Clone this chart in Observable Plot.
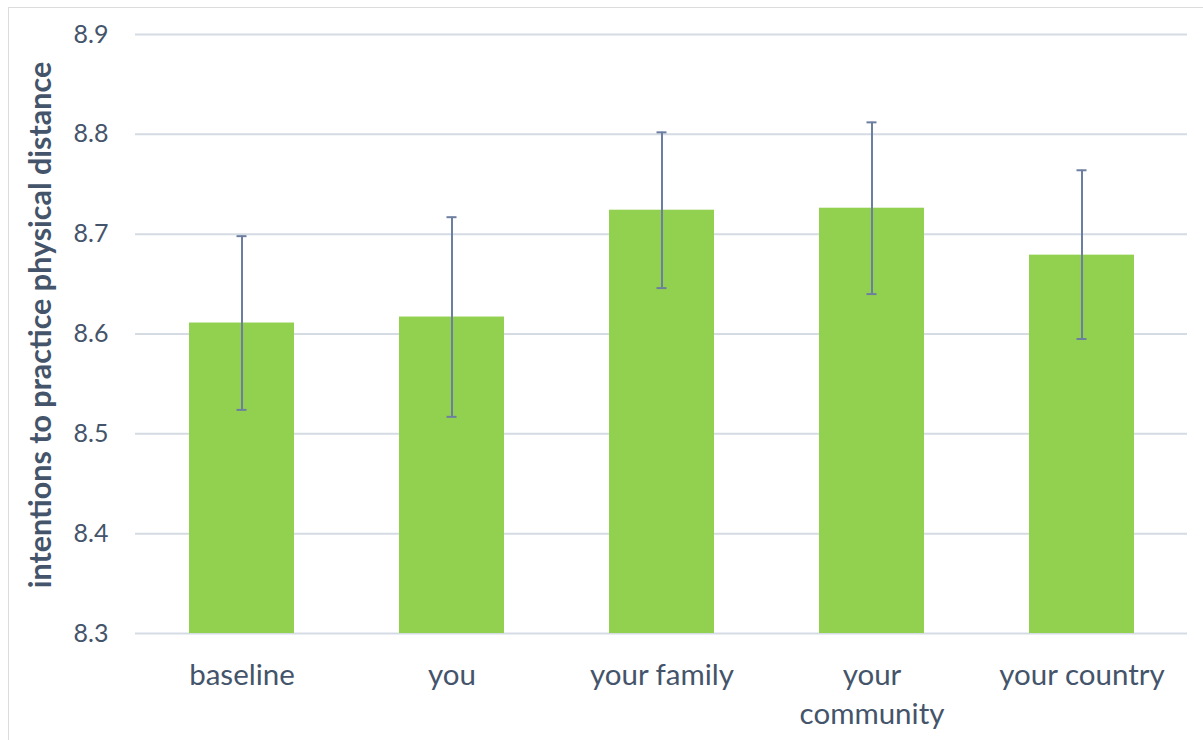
<!DOCTYPE html>
<html>
<head>
<meta charset="utf-8">
<script src="https://cdn.jsdelivr.net/npm/d3@7"></script>
<script src="https://cdn.jsdelivr.net/npm/@observablehq/plot@0.6"></script>
<style>
  html, body { margin: 0; padding: 0; background: #fff; }
  #wrap { position: relative; width: 1203px; height: 740px; overflow: hidden; }
  #border { position: absolute; left: 8px; top: 7px; width: 1400px; height: 900px; border: 1.5px solid #dcdcdc; box-sizing: border-box; }
  #chart { position: absolute; left: 0; top: 0; }
</style>
</head>
<body>
<div id="wrap"><div id="border"></div><div id="chart"></div></div>
<script>
const categories = ["baseline", "you", "your family", "your community", "your country"];
const tickLabels = ["baseline", "you", "your family", "your\ncommunity", "your country"];
const means = [8.611, 8.617, 8.724, 8.726, 8.679];
const errLow = [8.524, 8.517, 8.646, 8.640, 8.595];
const errHigh = [8.698, 8.717, 8.802, 8.812, 8.764];
const yTicks = [8.3, 8.4, 8.5, 8.6, 8.7, 8.8, 8.9];
const yLabel = "intentions to practice physical distance";

const data = categories.map((c, i) => ({cat: c, mean: means[i], lo: errLow[i], hi: errHigh[i]}));
const textColor = "#44546A";
const font = "Lato, 'Open Sans', sans-serif";

const plot = Plot.plot({
  width: 1203,
  height: 740,
  marginLeft: 135,
  marginRight: 16,
  marginTop: 34,
  marginBottom: 107,
  style: {fontFamily: font, color: textColor, background: "transparent"},
  x: {domain: categories, paddingInner: 0.5, paddingOuter: 0.25, axis: null},
  y: {domain: [yTicks[0], yTicks[yTicks.length - 1]], axis: null},
  marks: [
    Plot.gridY(yTicks, {stroke: "#d5dbe3", strokeOpacity: 1, strokeWidth: 2}),
    Plot.barY(data, {x: "cat", y1: yTicks[0], y2: "mean", fill: "#92D050"}),
    Plot.ruleX(data, {x: "cat", y1: "lo", y2: "hi", stroke: "#6D7FA0", strokeWidth: 2}),
    Plot.tickY(data, {x: "cat", y: "lo", stroke: "#6D7FA0", strokeWidth: 2, insetLeft: 47.5, insetRight: 47.5}),
    Plot.tickY(data, {x: "cat", y: "hi", stroke: "#6D7FA0", strokeWidth: 2, insetLeft: 47.5, insetRight: 47.5}),
    Plot.axisY(yTicks, {tickSize: 0, tickPadding: 27, fontSize: 25, fill: textColor, tickFormat: d => d.toFixed(1), label: null}),
    Plot.axisX({tickSize: 0, tickPadding: 24, fontSize: 29.5, fill: textColor, lineHeight: 1.32, textAnchor: "middle", lineAnchor: "top", tickFormat: (d, i) => tickLabels[categories.indexOf(d)], label: null}),
    Plot.text([yLabel], {frameAnchor: "left", rotate: -90, dx: -94, dy: -9, textAnchor: "middle", lineAnchor: "middle", fontSize: 30.5, fontWeight: "bold", fill: textColor, text: d => d})
  ]
});
document.getElementById("chart").appendChild(plot);
</script>
</body>
</html>
